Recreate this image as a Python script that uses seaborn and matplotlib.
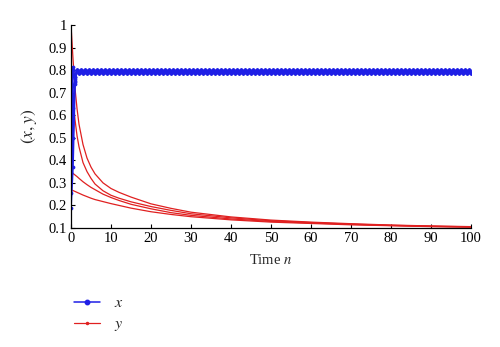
import numpy as np
import pandas as pd
import matplotlib
matplotlib.use("Agg")
import matplotlib.pyplot as plt
import seaborn as sns
from matplotlib.lines import Line2D

# ---- data -------------------------------------------------------------
# x trajectories: sampled every half step, first three samples differ by
# initial condition, afterwards all settle on the same period-2 cycle
x_time = np.arange(0, 100.5, 0.5)
x_transients = [
    [0.19, 0.37, 0.74],
    [0.255, 0.50, 0.77],
    [0.345, 0.63, 0.76],
    [0.455, 0.73, 0.75],
    [0.55, 0.815, 0.745],
    [0.63, 0.80, 0.77],
]
x_cycle = [0.801, 0.785]

# y trajectories: decay towards 0.1 from four initial values
y_time = [0, 0.5, 1, 1.5, 2, 3, 4, 5, 6, 8, 10, 12, 15, 20, 25, 30, 40, 50, 60, 70, 80, 90, 100]
y_a = [1.0, 0.85, 0.72, 0.63, 0.56, 0.47, 0.41, 0.37, 0.34, 0.30, 0.275, 0.258, 0.237,
       0.207, 0.187, 0.17, 0.149, 0.135, 0.126, 0.119, 0.113, 0.109, 0.106]
y_b = [0.82, 0.68, 0.58, 0.51, 0.46, 0.39, 0.35, 0.32, 0.295, 0.265, 0.245, 0.232, 0.216,
       0.195, 0.178, 0.163, 0.145, 0.132, 0.124, 0.117, 0.112, 0.108, 0.105]
y_c = [0.35, 0.342, 0.335, 0.328, 0.32, 0.305, 0.292, 0.28, 0.27, 0.25, 0.235, 0.222, 0.205,
       0.185, 0.168, 0.156, 0.14, 0.129, 0.122, 0.116, 0.111, 0.107, 0.104]
y_d = [0.27, 0.266, 0.262, 0.258, 0.254, 0.246, 0.239, 0.232, 0.226, 0.217, 0.208, 0.2, 0.188,
       0.172, 0.16, 0.15, 0.136, 0.126, 0.12, 0.114, 0.11, 0.106, 0.104]

x_ticks = [0, 10, 20, 30, 40, 50, 60, 70, 80, 90, 100]
y_ticks = [0.1, 0.2, 0.3, 0.4, 0.5, 0.6, 0.7, 0.8, 0.9, 1.0]
y_tick_labels = ["0.1", "0.2", "0.3", "0.4", "0.5", "0.6", "0.7", "0.8", "0.9", "1"]

# ---- tables -----------------------------------------------------------
n_pairs = (len(x_time) - 3) // 2
x_rows = []
for k, head in enumerate(x_transients):
    vals = head + x_cycle * n_pairs
    x_rows.append(pd.DataFrame({"n": x_time, "value": vals, "run": k}))
x_df = pd.concat(x_rows, ignore_index=True)

y_rows = []
for k, vals in enumerate([y_a, y_b, y_c, y_d]):
    y_rows.append(pd.DataFrame({"n": y_time, "value": vals, "run": k}))
y_df = pd.concat(y_rows, ignore_index=True)

# ---- figure -----------------------------------------------------------
sns.set_theme(style="ticks")
plt.rcParams["font.family"] = ["Liberation Serif", "DejaVu Serif"]
plt.rcParams["mathtext.fontset"] = "stix"

BLUE = "#1f1fe6"
RED = "#e02020"

fig = plt.figure(figsize=(5.0, 3.47), dpi=100)
ax = fig.add_axes([0.142, 0.343, 0.80, 0.585])

sns.lineplot(data=y_df, x="n", y="value", units="run", estimator=None,
             color=RED, linewidth=0.9, ax=ax, legend=False)
sns.lineplot(data=x_df, x="n", y="value", units="run", estimator=None,
             color=BLUE, linewidth=1.2, marker="o", markersize=2.7,
             markeredgewidth=0, ax=ax, legend=False)

ax.set_xlim(0, 100)
ax.set_ylim(0.1, 1.0)
ax.set_xticks(x_ticks)
ax.set_yticks(y_ticks)
ax.set_yticklabels(y_tick_labels)
ax.tick_params(direction="in", length=3, width=0.8, labelsize=10.5, pad=3, colors="black")
for side in ("top", "right"):
    ax.spines[side].set_visible(False)
for side in ("left", "bottom"):
    ax.spines[side].set_linewidth(0.9)
    ax.spines[side].set_color("black")

ax.set_xlabel("Time $n$", fontsize=10.5, labelpad=6)
ax.set_ylabel("$(x, y)$", fontsize=12.5, labelpad=7)

handles = [
    Line2D([], [], color=BLUE, linewidth=1.1, marker="o", markersize=3.2),
    Line2D([], [], color=RED, linewidth=0.9, marker="o", markersize=1.5),
]
fig.legend(handles, ["$x$", "$y$"], loc="upper left",
           bbox_to_anchor=(0.12, 0.19), frameon=False, fontsize=11.5,
           handlelength=1.6, handletextpad=0.9, labelspacing=0.3)

fig.savefig("out.png", dpi=100)
